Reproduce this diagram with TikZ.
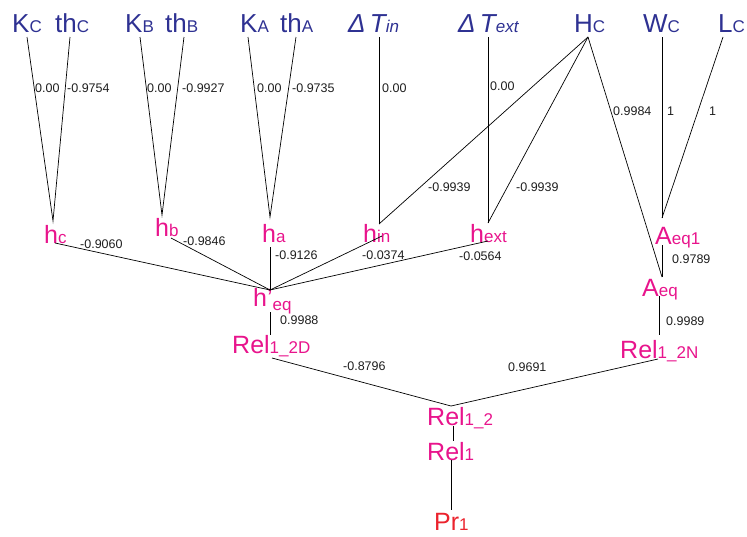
\documentclass[tikz,border=0pt]{standalone}
\usepackage{fontspec}
\setmainfont{Liberation Sans}
\definecolor{tblue}{RGB}{46,49,146}
\definecolor{mpink}{RGB}{232,20,140}
\definecolor{mred}{RGB}{235,35,45}
\definecolor{lbl}{RGB}{30,30,30}
\newcommand{\bigf}{\fontsize{26}{26}\selectfont}
\newcommand{\midf}{\fontsize{25}{25}\selectfont}
\newcommand{\subf}{\fontsize{17}{17}\selectfont}
\tikzset{
  topl/.style={text=tblue, font=\bigf, anchor=base west, inner sep=0},
  midl/.style={text=mpink, font=\midf, anchor=base west, inner sep=0},
  val/.style={text=lbl, font=\fontsize{12.5}{12.5}\selectfont, anchor=west, inner sep=0},
  conn/.style={line width=0.7pt, black}
}
\begin{document}
\begin{tikzpicture}[x=1pt,y=-1pt]
\useasboundingbox (0,0) rectangle (747,536);
% top row
\node[topl] (Kc) at (12,32) {K{\subf C}};
\node[topl] (thc) at (55,32) {th{\subf C}};
\node[topl] (Kb) at (125,32) {K{\subf B}};
\node[topl] (thb) at (165,32) {th{\subf B}};
\node[topl] (Ka) at (240,32) {K{\subf A}};
\node[topl] (tha) at (280,32) {th{\subf A}};
\node[topl] (Tin) at (348,32) {\itshape Δ\,T{\subf in}};
\node[topl] (Text) at (458,32) {\itshape Δ\,T{\subf ext}};
\node[topl] (Hc) at (574,32) {H{\subf C}};
\node[topl] (Wc) at (643,32) {W{\subf C}};
\node[topl] (Lc) at (718,32) {L{\subf C}};
% middle
\node[midl] (hc) at (44,243) {h{\subf c}};
\node[midl] (hb) at (155,236) {h{\subf b}};
\node[midl] (ha) at (262,242) {h{\subf a}};
\node[midl] (hin) at (363,242) {h{\subf in}};
\node[midl] (hext) at (470,242) {h{\subf ext}};
\node[midl] (Aeq1) at (655,244) {A{\subf eq1}};
\node[midl] (Aeq) at (642,296) {A{\subf eq}};
\node[midl] (heq) at (253,306) {h’\raisebox{-4pt}{\subf eq}};
\node[midl] (R2D) at (232,353) {Rel{\subf 1\_2D}};
\node[midl] (R2N) at (620,358) {Rel{\subf 1\_2N}};
\node[midl] (R12) at (427,425) {Rel{\subf 1\_2}};
\node[midl] (R1) at (427,460) {Rel{\subf 1}};
\node[midl, text=mred] (Pr1) at (434,530) {Pr{\subf 1}};
% attachment coordinates
\coordinate (Kc-b) at (27,37);   \coordinate (thc-b) at (70,37);
\coordinate (Kb-b) at (140,37);  \coordinate (thb-b) at (184,37);
\coordinate (Ka-b) at (248,37);  \coordinate (tha-b) at (296,37);
\coordinate (Tin-b) at (379,37); \coordinate (Text-b) at (488,37);
\coordinate (Hc-b) at (588,37);  \coordinate (Wc-b) at (662,37);
\coordinate (Lc-b) at (723,37);
\coordinate (hc-t) at (53,221);  \coordinate (hb-t) at (162,215);
\coordinate (ha-t) at (270,217); \coordinate (hin-t) at (379,224);
\coordinate (hext-t) at (488,223); \coordinate (Aeq1-t) at (662,218);
\coordinate (Aeq-t) at (662,277);
\coordinate (hc-o) at (55,243);  \coordinate (hb-o) at (171,238);
\coordinate (ha-o) at (270,247); \coordinate (hin-o) at (382,236);
\coordinate (hext-o) at (488,241);
\coordinate (heq-t) at (270,290); \coordinate (heq-b) at (270,312);
\coordinate (R2D-t) at (270,335); \coordinate (R2D-o) at (272,358);
\coordinate (Aeq1-b) at (662,245); \coordinate (Aeq-b) at (659,296);
\coordinate (R2N-t) at (659,335); \coordinate (R2N-o) at (658,359);
\coordinate (R12-t) at (451,406); \coordinate (R12-b) at (453,426);
\coordinate (R1-t) at (453,441);  \coordinate (R1-b) at (451,460);
\coordinate (Pr1-t) at (451,510);
% connectors
\draw[conn] (Kc-b) -- (hc-t) -- (thc-b);
\draw[conn] (Kb-b) -- (hb-t) -- (thb-b);
\draw[conn] (Ka-b) -- (ha-t) -- (tha-b);
\draw[conn] (Tin-b) -- (hin-t);
\draw[conn] (Text-b) -- (hext-t);
\draw[conn] (Hc-b) -- (hin-t);
\draw[conn] (Hc-b) -- (hext-t);
\draw[conn] (Hc-b) -- (Aeq-t);
\draw[conn] (Wc-b) -- (Aeq1-t);
\draw[conn] (Lc-b) -- (Aeq1-t);
\draw[conn] (hc-o) -- (heq-t);
\draw[conn] (hb-o) -- (heq-t);
\draw[conn] (ha-o) -- (heq-t);
\draw[conn] (hin-o) -- (heq-t);
\draw[conn] (hext-o) -- (heq-t);
\draw[conn] (heq-b) -- (R2D-t);
\draw[conn] (Aeq1-b) -- (Aeq-t);
\draw[conn] (Aeq-b) -- (R2N-t);
\draw[conn] (R2D-o) -- (R12-t);
\draw[conn] (R2N-o) -- (R12-t);
\draw[conn] (R12-b) -- (R1-t);
\draw[conn] (R1-b) -- (Pr1-t);
% values
\node[val] (v1) at (35,88) {0.00};
\node[val] (v2) at (67,88) {-0.9754};
\node[val] (v3) at (147,88) {0.00};
\node[val] (v4) at (182,88) {-0.9927};
\node[val] (v5) at (257,88) {0.00};
\node[val] (v6) at (292,88) {-0.9735};
\node[val] (v7) at (382,88) {0.00};
\node[val] (v8) at (490,86) {0.00};
\node[val] (v9) at (613,111) {0.9984};
\node[val] (v10) at (667,111) {1};
\node[val] (v11) at (709,111) {1};
\node[val] (v12) at (428,187) {-0.9939};
\node[val] (v13) at (516,187) {-0.9939};
\node[val] (v14) at (80,244) {-0.9060};
\node[val] (v15) at (183,241) {-0.9846};
\node[val] (v16) at (275,255) {-0.9126};
\node[val] (v17) at (362,255) {-0.0374};
\node[val] (v18) at (459,256) {-0.0564};
\node[val] (v19) at (280,320) {0.9988};
\node[val] (v20) at (672,259) {0.9789};
\node[val] (v21) at (666,321) {0.9989};
\node[val] (v22) at (343,366) {-0.8796};
\node[val] (v23) at (508,367) {0.9691};
\end{tikzpicture}
\end{document}
